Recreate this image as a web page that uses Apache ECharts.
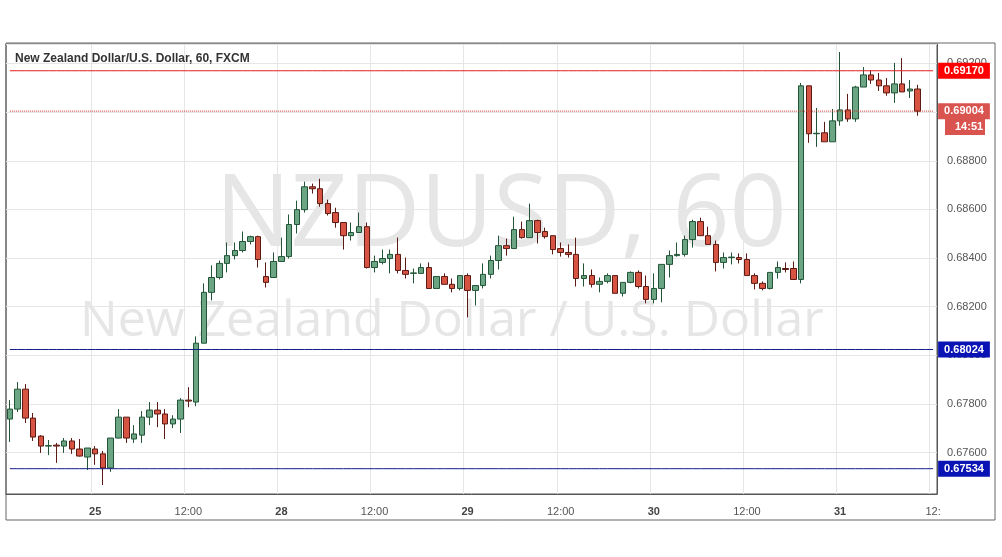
<!DOCTYPE html>
<html>
<head>
<meta charset="utf-8">
<script src="https://cdn.jsdelivr.net/npm/echarts@6/dist/echarts.min.js"></script>
<style>
  html, body {margin: 0; padding: 0; background: #fff;}
  #chart {width: 1002px; height: 557px;}
</style>
</head>
<body>
<div id="chart"></div>
<script>
// hourly candles, [open, close, low, high]
const candles = [
  [0.67738,0.67779,0.67644,0.67816],[0.67779,0.67861,0.67767,0.67890],[0.67861,0.67742,0.67722,0.67882],
  [0.67742,0.67664,0.67648,0.67763],[0.67668,0.67627,0.67599,0.67672],[0.67627,0.67629,0.67590,0.67652],
  [0.67631,0.67627,0.67558,0.67640],[0.67627,0.67648,0.67599,0.67660],[0.67648,0.67615,0.67595,0.67660],
  [0.67615,0.67586,0.67584,0.67656],[0.67582,0.67619,0.67529,0.67619],[0.67615,0.67595,0.67550,0.67627],
  [0.67595,0.67537,0.67467,0.67607],[0.67537,0.67660,0.67521,0.67660],[0.67660,0.67746,0.67658,0.67779],
  [0.67746,0.67660,0.67640,0.67746],[0.67656,0.67677,0.67640,0.67713],[0.67672,0.67746,0.67640,0.67771],
  [0.67746,0.67775,0.67713,0.67808],[0.67775,0.67759,0.67705,0.67808],[0.67759,0.67718,0.67656,0.67779],
  [0.67718,0.67738,0.67701,0.67754],[0.67738,0.67816,0.67681,0.67824],[0.67816,0.67812,0.67787,0.67869],
  [0.67808,0.68050,0.67791,0.68078],[0.68050,0.68259,0.68050,0.68296],[0.68259,0.68320,0.68226,0.68370],
  [0.68320,0.68378,0.68312,0.68390],[0.68378,0.68410,0.68341,0.68464],[0.68410,0.68431,0.68394,0.68464],
  [0.68431,0.68468,0.68423,0.68509],[0.68468,0.68488,0.68456,0.68492],[0.68488,0.68394,0.68361,0.68492],
  [0.68324,0.68300,0.68279,0.68382],[0.68320,0.68386,0.68320,0.68423],[0.68386,0.68406,0.68386,0.68484],
  [0.68406,0.68538,0.68398,0.68579],[0.68538,0.68599,0.68501,0.68636],[0.68599,0.68693,0.68587,0.68714],
  [0.68693,0.68685,0.68665,0.68706],[0.68685,0.68624,0.68611,0.68726],[0.68624,0.68583,0.68575,0.68640],
  [0.68587,0.68546,0.68525,0.68607],[0.68546,0.68492,0.68435,0.68546],[0.68492,0.68505,0.68472,0.68546],
  [0.68505,0.68529,0.68505,0.68587],[0.68529,0.68361,0.68357,0.68546],[0.68361,0.68386,0.68341,0.68410],
  [0.68382,0.68398,0.68374,0.68435],[0.68398,0.68415,0.68337,0.68435],[0.68415,0.68349,0.68337,0.68484],
  [0.68349,0.68333,0.68316,0.68402],[0.68337,0.68339,0.68296,0.68357],[0.68337,0.68361,0.68337,0.68378],
  [0.68361,0.68275,0.68275,0.68382],[0.68275,0.68324,0.68275,0.68324],[0.68324,0.68292,0.68292,0.68337],
  [0.68292,0.68275,0.68259,0.68316],[0.68275,0.68328,0.68267,0.68328],[0.68328,0.68267,0.68156,0.68337],
  [0.68267,0.68287,0.68205,0.68287],[0.68287,0.68333,0.68275,0.68378],[0.68333,0.68390,0.68316,0.68410],
  [0.68390,0.68451,0.68353,0.68492],[0.68451,0.68439,0.68410,0.68480],[0.68439,0.68517,0.68439,0.68570],
  [0.68517,0.68484,0.68480,0.68550],[0.68484,0.68554,0.68484,0.68624],[0.68554,0.68505,0.68460,0.68558],
  [0.68509,0.68488,0.68480,0.68525],[0.68492,0.68435,0.68415,0.68492],[0.68439,0.68423,0.68406,0.68464],
  [0.68423,0.68415,0.68402,0.68456],[0.68415,0.68316,0.68283,0.68484],[0.68316,0.68328,0.68283,0.68378],
  [0.68328,0.68292,0.68279,0.68353],[0.68292,0.68304,0.68259,0.68320],[0.68304,0.68328,0.68296,0.68337],
  [0.68328,0.68255,0.68255,0.68328],[0.68255,0.68300,0.68242,0.68300],[0.68300,0.68341,0.68296,0.68345],
  [0.68341,0.68283,0.68275,0.68349],[0.68283,0.68230,0.68214,0.68328],[0.68230,0.68275,0.68214,0.68337],
  [0.68275,0.68374,0.68218,0.68374],[0.68374,0.68410,0.68320,0.68431],[0.68410,0.68415,0.68406,0.68464],
  [0.68415,0.68476,0.68406,0.68492],[0.68476,0.68550,0.68443,0.68558],[0.68550,0.68492,0.68492,0.68566],
  [0.68492,0.68456,0.68456,0.68529],[0.68456,0.68382,0.68345,0.68472],[0.68382,0.68402,0.68357,0.68423],
  [0.68402,0.68404,0.68374,0.68423],[0.68402,0.68394,0.68378,0.68419],[0.68394,0.68328,0.68328,0.68419],
  [0.68328,0.68296,0.68271,0.68337],[0.68296,0.68275,0.68267,0.68304],[0.68275,0.68341,0.68271,0.68341],
  [0.68341,0.68361,0.68316,0.68386],[0.68357,0.68353,0.68341,0.68382],[0.68357,0.68312,0.68312,0.68386],
  [0.68312,0.69108,0.68296,0.69120],[0.69108,0.68911,0.68874,0.69108],[0.68911,0.68913,0.68857,0.69017],
  [0.68915,0.68878,0.68878,0.68960],[0.68878,0.68964,0.68878,0.69013],[0.68964,0.69009,0.68944,0.69247],
  [0.69009,0.68972,0.68960,0.69075],[0.68972,0.69103,0.68960,0.69108],[0.69103,0.69153,0.69103,0.69185],
  [0.69153,0.69132,0.69116,0.69173],[0.69132,0.69108,0.69087,0.69161],[0.69108,0.69079,0.69067,0.69140],
  [0.69079,0.69116,0.69038,0.69202],[0.69116,0.69083,0.69083,0.69222],[0.69087,0.69095,0.69058,0.69132],
  [0.69095,0.69004,0.68985,0.69112]
];

// x tick labels: [category index, text, is day]
const tickLabels = [[11,'25',1],[23,'12:00',0],[35,'28',1],[47,'12:00',0],[59,'29',1],
  [71,'12:00',0],[83,'30',1],[95,'12:00',0],[107,'31',1],[119,'12:',0]];

const levelValues = [0.69170, 0.69004, 0.68024, 0.67534];
const levelLine = ['#e41c1c', '#c0392b', '#141c8a', '#141c8a'];
const levelDash = ['solid', 'dotted', 'solid', 'solid'];
const levelTag = ['#ff0000', '#d9534f', '#0a14b4', '#0a14b4'];

const categories = [];
for (let i = 0; i < 120; i++) categories.push(String(i));
const tickMap = {};
tickLabels.forEach(t => { tickMap[t[0]] = t; });

const levelSeries = levelValues.map((v, k) => ({
  type: 'line',
  data: categories.map(() => v),
  silent: true,
  showSymbol: false,
  symbol: 'none',
  z: 5,
  lineStyle: {color: levelLine[k], type: levelDash[k], width: 1},
  endLabel: {
    show: true, distance: 5,
    formatter: v.toFixed(5),
    backgroundColor: levelTag[k], color: '#fff', fontWeight: 'bold', fontSize: 11,
    fontFamily: 'Arial, sans-serif',
    padding: [3, 6, 2, 6]
  }
}));

const chart = echarts.init(document.getElementById('chart'));
chart.setOption({
  animation: false,
  backgroundColor: '#fff',
  grid: {left: 6, right: 65, top: 44, bottom: 63, show: true, borderColor: '#555', borderWidth: 1},
  graphic: [
    {type: 'rect', z: 0, shape: {x: 6, y: 43, width: 989, height: 477}, style: {fill: 'none', stroke: '#666', lineWidth: 1}},
    {type: 'text', z: 0, left: 'center', top: 168, style: {text: 'NZDUSD, 60', font: '100px "Open Sans", sans-serif', fill: '#e6e6e6'}},
    {type: 'text', z: 0, left: 80, top: 297, style: {text: 'New Zealand Dollar / U.S. Dollar', font: '50px "Open Sans", sans-serif', fill: '#e6e6e6'}},
    {type: 'text', z: 10, left: 15, top: 53, style: {text: 'New Zealand Dollar/U.S. Dollar, 60, FXCM', font: 'bold 12px Arial, "Liberation Sans", sans-serif', fill: '#333'}},
    {type: 'rect', z: 10, shape: {x: 945, y: 118, width: 40, height: 17}, style: {fill: '#d9534f'}},
    {type: 'text', z: 11, left: 955, top: 121, style: {text: '14:51', font: 'bold 11px Arial, sans-serif', fill: '#fff'}}
  ],
  xAxis: {
    type: 'category',
    data: categories,
    boundaryGap: true,
    axisLine: {onZero: false, lineStyle: {color: '#555'}},
    axisTick: {show: false},
    splitLine: {show: true, interval: i => !!tickMap[i], lineStyle: {color: '#e6e6e6'}},
    axisLabel: {
      interval: i => !!tickMap[i],
      color: '#555', fontSize: 11, margin: 12,
      formatter: (v, i) => {
        const t = tickMap[i];
        if (!t) return '';
        return t[2] ? '{d|' + t[1] + '}' : t[1];
      },
      rich: {d: {fontWeight: 'bold', color: '#444', fontSize: 11}}
    }
  },
  yAxis: {
    type: 'value',
    position: 'right',
    scale: true,
    min: 0.6743,
    max: 0.6928,
    splitNumber: 9,
    axisLine: {show: true, lineStyle: {color: '#555'}},
    axisTick: {show: false},
    splitLine: {lineStyle: {color: '#e6e6e6'}},
    axisLabel: {color: '#555', fontSize: 11, margin: 10, showMinLabel: false, showMaxLabel: false,
      formatter: v => v.toFixed(5)}
  },
  series: [{
    type: 'candlestick',
    data: candles,
    barWidth: 6,
    z: 3,
    itemStyle: {color: '#6ba583', color0: '#d75442', borderColor: '#225437', borderColor0: '#5b1a13', borderWidth: 1}
  }].concat(levelSeries)
});
</script>
</body>
</html>
